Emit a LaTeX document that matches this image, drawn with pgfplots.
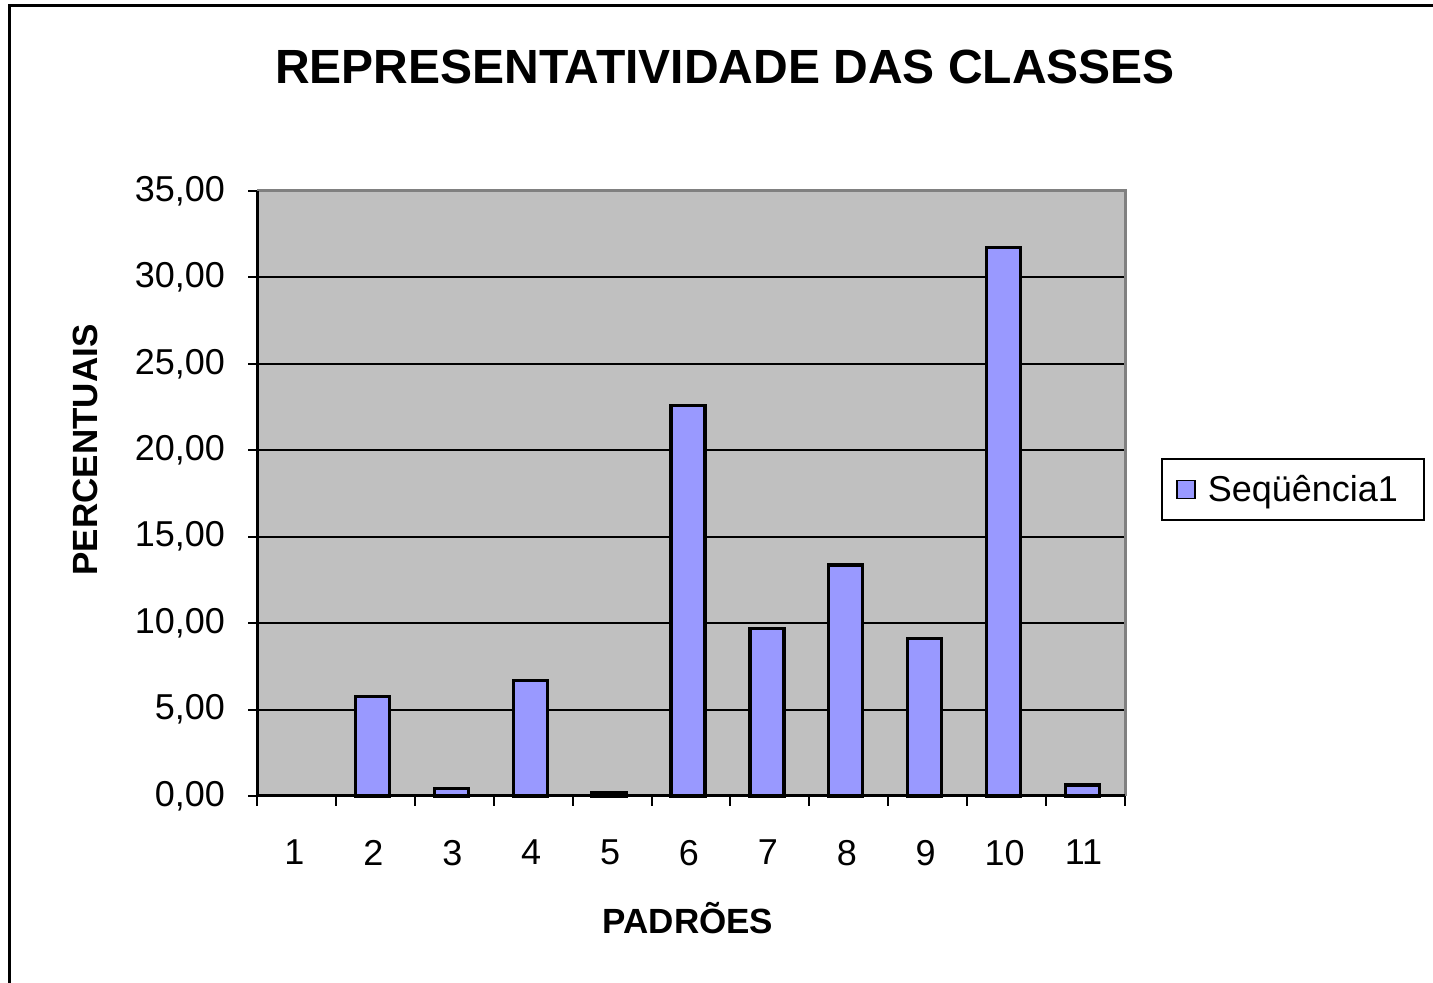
\documentclass[border=0pt]{standalone}
\usepackage{fontspec}
\setmainfont{Liberation Sans}
\usepackage{pgfplots}
\pgfplotsset{compat=1.18}
\definecolor{barblue}{HTML}{9999FF}
\definecolor{plotgray}{HTML}{C0C0C0}
\definecolor{bordergray}{HTML}{808080}
\begin{document}
\begin{tikzpicture}
\useasboundingbox (0,0) rectangle (716.5pt,491.5pt);
\draw[line width=1.5pt] (4.5pt,-20pt) -- (4.5pt,488.5pt) -- (740pt,488.5pt);
\node[font=\fontsize{24}{28}\selectfont\bfseries] at (362.5pt,458pt) {REPRESENTATIVIDADE DAS CLASSES};
\node[font=\fontsize{17.5}{20}\selectfont\bfseries, rotate=90] at (42.5pt,266.5pt) {PERCENTUAIS};
\node[font=\fontsize{17.5}{20}\selectfont\bfseries] at (344pt,32.5pt) {PADRÕES};
\begin{axis}[
  at={(128.5pt,93.5pt)}, anchor=south west,
  width=434pt, height=302.5pt, scale only axis,
  ybar, bar width=17pt, bar shift=-1.5pt,
  xmin=0.5, xmax=11.5, ymin=0, ymax=35,
  axis background/.style={fill=plotgray},
  axis line style={draw=none},
  xtick={1,...,11},
  xticklabels={1,2,3,4,5,6,7,8,9,10,11},
  minor xtick={0.5,1.5,...,11.5},
  ytick={0,5,...,35},
  major x tick style={draw=none},
  tick pos=left,
  tick align=outside,
  tick style={black, line width=1pt},
  major tick length=4.5pt,
  minor tick length=5pt,
  ymajorgrids, grid style={black, line width=1pt},
  xticklabel style={yshift=-14pt, xshift=-1pt},
  ticklabel style={font=\fontsize{18}{21}\selectfont},
  /pgf/number format/.cd, fixed, fixed zerofill, precision=2, use comma, assume math mode=true,
  /pgfplots/.cd,
  yticklabel style={xshift=-8pt},
  legend style={at={(1.0415,0.5066)}, anchor=west, draw=black, line width=1pt,
    font=\fontsize{18}{21}\selectfont, inner xsep=7pt, inner ysep=6pt,
    nodes={inner xsep=6pt}},
  legend image code/.code={\draw[#1, line width=0.9pt, fill=barblue, draw=black] (0pt,-4.5pt) rectangle (9pt,4.5pt);},
  clip=false,
]
\addplot[fill=barblue, draw=black, line width=1.6pt]
  coordinates {(2,5.74) (3,0.44) (4,6.67) (5,0.22) (6,22.61) (7,9.70) (8,13.36) (9,9.12) (10,31.71) (11,0.64)};
\addlegendentry{Seqüência1}
\draw[bordergray, line width=1.5pt] (axis cs:0.5,35) -- (axis cs:11.5,35) -- (axis cs:11.5,0);
\draw[black, line width=1.5pt] (axis cs:0.5,0) -- (axis cs:0.5,35);
\draw[black, line width=1.5pt] (axis cs:0.5,0) -- (axis cs:11.5,0);
\end{axis}
\end{tikzpicture}
\end{document}
